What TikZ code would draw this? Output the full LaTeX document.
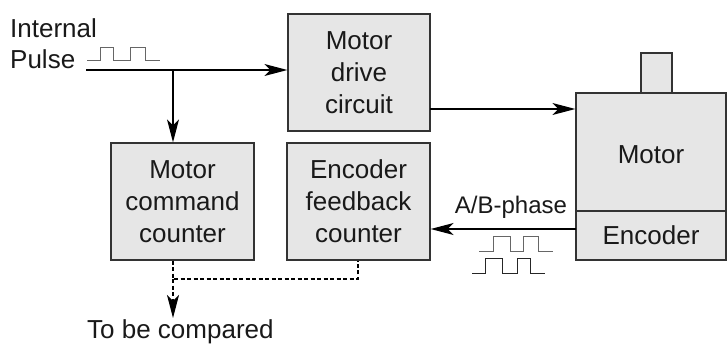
\documentclass[tikz,border=0pt]{standalone}
\usepackage{fontspec}
\setmainfont{Liberation Sans}
\usetikzlibrary{arrows.meta}
\definecolor{boxfill}{HTML}{E6E6E6}
\definecolor{boxline}{HTML}{333333}
\definecolor{wave}{HTML}{666666}
\begin{document}
\begin{tikzpicture}[x=1pt,y=-1pt,
  every node/.style={font=\fontsize{26}{32}\selectfont, text=black!90},
  blockbox/.style={draw=boxline, fill=boxfill, line width=1.3pt, inner sep=0pt, align=center},
  arr/.style={line width=1.3pt, -{Stealth[length=23pt,width=12pt,inset=6pt]}},
  dasharr/.style={line width=1.2pt, dash pattern=on 4pt off 2.5pt, -{Stealth[length=23pt,width=12pt,inset=6pt]}},
  dashline/.style={line width=1.2pt, dash pattern=on 4pt off 2.5pt},
  pulse/.style={line width=1pt, draw=wave},
  pulsedark/.style={line width=1pt, draw=black!85}]
\useasboundingbox (0,0) rectangle (727,343);

% blocks
\node[blockbox, minimum width=142pt, minimum height=117pt] (drive) at (359,72.5) {Motor\\drive\\circuit};
\node[blockbox, minimum width=143pt, minimum height=117pt] (cmd) at (182.5,201.5) {Motor\\command\\counter};
\node[blockbox, minimum width=143pt, minimum height=117pt] (fb) at (358.5,201.5) {Encoder\\feedback\\counter};
\node[blockbox, minimum width=150pt, minimum height=167pt] (motor) at (651,176.5) {};
\node[blockbox, minimum width=31pt, minimum height=40pt] (shaft) at (656.5,73) {};
\node[blockbox, minimum width=150pt, minimum height=49pt] (enc) at (651,235.5) {Encoder};
\node (motorlbl) at (651,155) {Motor};

% labels
\node[anchor=base west, inner sep=0pt] (internal) at (10,37) {Internal};
\node[anchor=base west, inner sep=0pt] (pulselbl) at (10,68) {Pulse};
\node[anchor=base, inner sep=0pt, font=\fontsize{24}{28}\selectfont] (ab) at (511,213) {A/B-phase};
\node[anchor=base west, inner sep=0pt] (cmp) at (87,338) {To be compared};

% internal pulse waveform
\draw[pulse] (87,60) -- (100,60) -- (100,47) -- (113,47) -- (113,60) -- (130,60) -- (130,47) -- (145,47) -- (145,60) -- (160,60);

% A/B waveforms
\draw[pulse] (479,251) -- (493,251) -- (493,236) -- (510,236) -- (510,251) -- (523,251) -- (523,236) -- (538,236) -- (538,251) -- (553,251);
\draw[pulsedark] (472,273) -- (485,273) -- (485,258) -- (502,258) -- (502,273) -- (517,273) -- (517,258) -- (530,258) -- (530,273) -- (545,273);

% connectors
\coordinate (start) at (86,70);
\coordinate (branch) at (173,70);
\draw[arr] (start) -- (start -| drive.west);
\draw[arr] (branch) -- (branch |- cmd.north);
\coordinate (dout) at (430,109);
\draw[arr] (dout) -- (dout -| motor.west);
\coordinate (abstart) at (576,229);
\draw[arr] (abstart) -- (abstart -| fb.east);

% dashed comparison
\coordinate (c1) at (173,279);
\coordinate (c2) at (358,279);
\coordinate (cend) at (173,318);
\draw[dashline] (cmd.south -| c1) -- (c1) -- (c2) -- (fb.south -| c2);
\draw[dasharr] (c1) -- (cend);
\end{tikzpicture}
\end{document}
